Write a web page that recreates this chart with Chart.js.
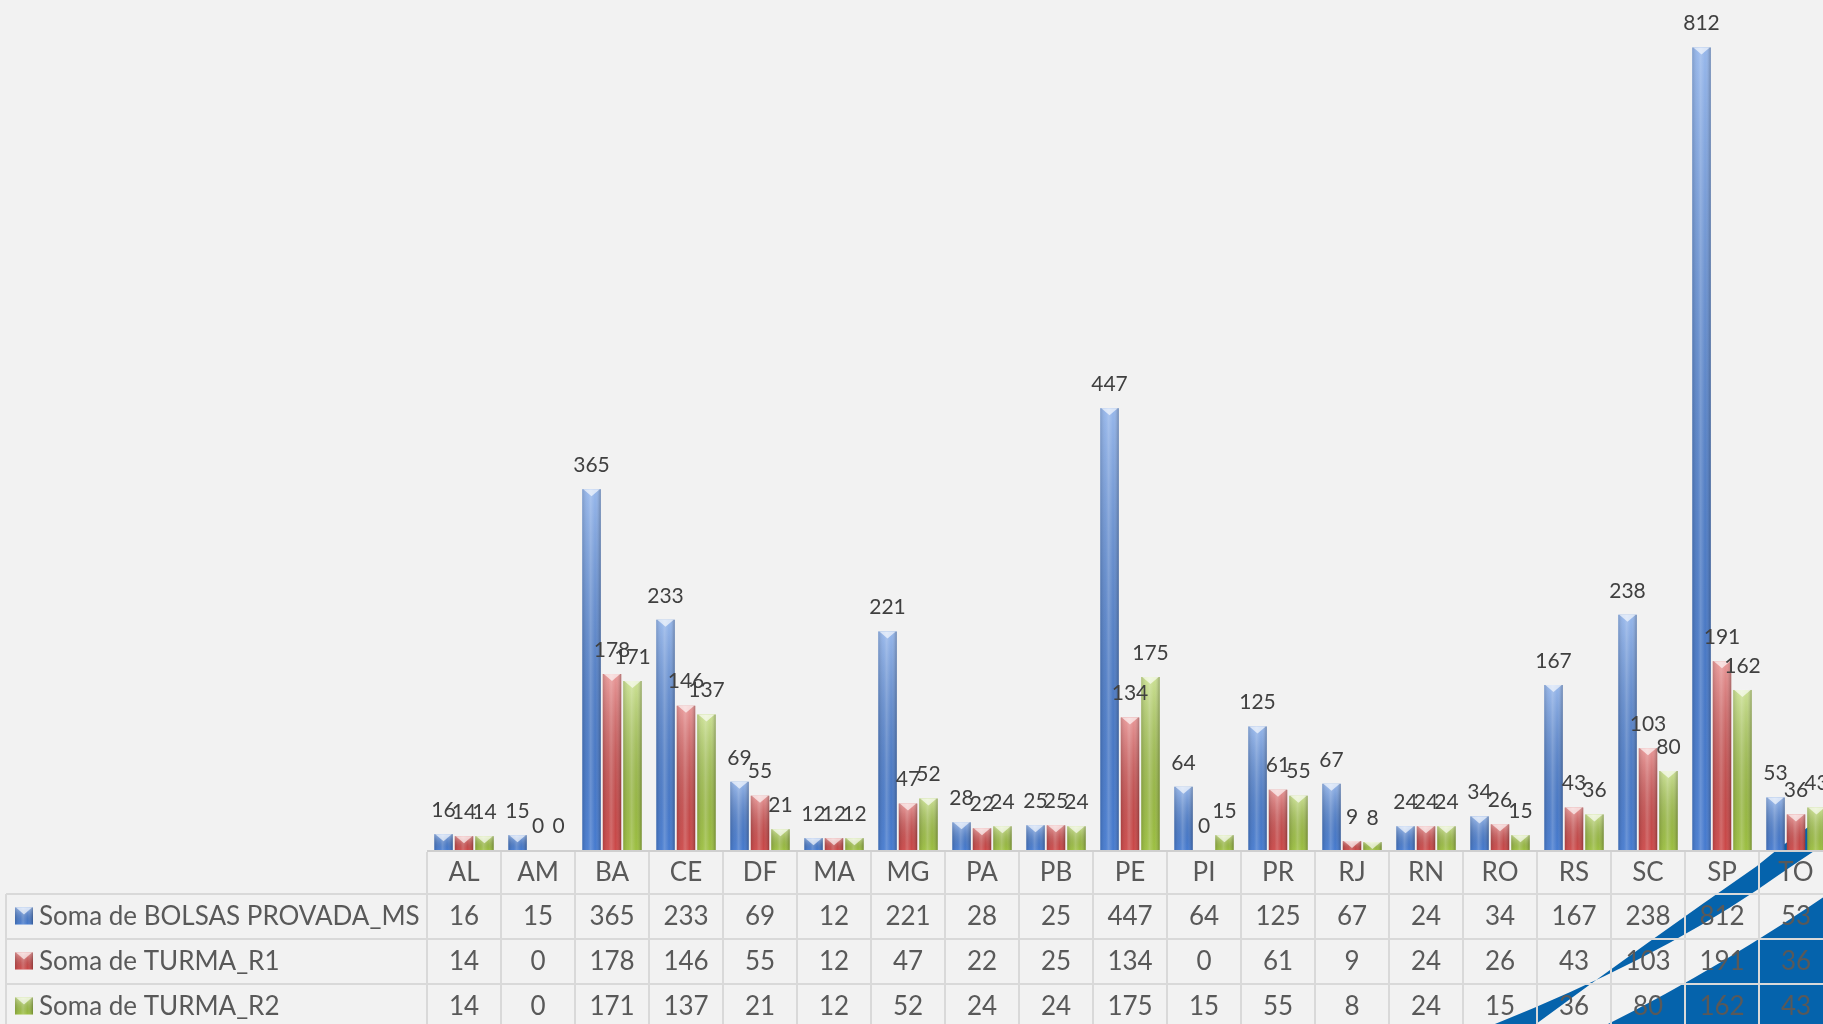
<!DOCTYPE html>
<html>
<head>
<meta charset="utf-8">
<script src="https://cdn.jsdelivr.net/npm/chart.js@4.4.1/dist/chart.umd.min.js"></script>
<style>
  body { margin: 0; background: #f2f2f2; overflow: hidden; }
  #wrap { position: absolute; left: 0; top: 0; width: 1840px; height: 1024px; }
</style>
</head>
<body>
<div id="wrap"><canvas id="chart" width="1840" height="1024"></canvas></div>
<script>
const estados = ["AL", "AM", "BA", "CE", "DF", "MA", "MG", "PA", "PB", "PE", "PI", "PR", "RJ", "RN", "RO", "RS", "SC", "SP", "TO"];
const bolsas = [16, 15, 365, 233, 69, 12, 221, 28, 25, 447, 64, 125, 67, 24, 34, 167, 238, 812, 53];
const turmaR1 = [14, 0, 178, 146, 55, 12, 47, 22, 25, 134, 0, 61, 9, 24, 26, 43, 103, 191, 36];
const turmaR2 = [14, 0, 171, 137, 21, 12, 52, 24, 24, 175, 15, 55, 8, 24, 15, 36, 80, 162, 43];
const nomes = ["Soma de BOLSAS PROVADA_MS", "Soma de TURMA_R1", "Soma de TURMA_R2"];
const cores = ["#4a82dc", "#d94d4d", "#a6cb45"];

const FONT = "Lato, 'Open Sans', sans-serif";
const TXT = "#595959";

// shading so the bars look like the beveled excel columns
function shadeBar(ctx, x0, top, w, h) {
  if (h < 1) return;
  let g = ctx.createLinearGradient(0, top, 0, top + h);
  g.addColorStop(0, "rgba(255,255,255,0.42)");
  g.addColorStop(1, "rgba(0,0,0,0.06)");
  ctx.fillStyle = g;
  ctx.fillRect(x0, top, w, h);

  g = ctx.createLinearGradient(x0, 0, x0 + w, 0);
  g.addColorStop(0, "rgba(0,0,0,0.14)");
  g.addColorStop(0.3, "rgba(255,255,255,0.05)");
  g.addColorStop(0.45, "rgba(255,255,255,0.2)");
  g.addColorStop(0.7, "rgba(255,255,255,0)");
  g.addColorStop(1, "rgba(0,0,0,0.25)");
  ctx.fillStyle = g;
  ctx.fillRect(x0, top, w, h);

  const th = Math.min(7, h);
  ctx.fillStyle = "rgba(255,255,255,0.65)";
  ctx.beginPath();
  ctx.moveTo(x0 + 1, top);
  ctx.lineTo(x0 + w - 1, top);
  ctx.lineTo(x0 + w / 2, top + th);
  ctx.closePath();
  ctx.fill();
}

const fundo = {
  id: "fundo",
  beforeDraw(chart) {
    const ctx = chart.ctx;
    ctx.save();
    ctx.fillStyle = "#f2f2f2";
    ctx.fillRect(0, 0, chart.width, chart.height);
    ctx.fillStyle = "#0563ac";
    // thin curved stripe
    ctx.beginPath();
    ctx.moveTo(1495, 1024);
    ctx.quadraticCurveTo(1650, 962, 1757, 890);
    ctx.quadraticCurveTo(1800, 860, 1840, 834);
    ctx.lineTo(1840, 806);
    ctx.quadraticCurveTo(1795, 834, 1757, 866);
    ctx.quadraticCurveTo(1650, 940, 1536, 1024);
    ctx.closePath();
    ctx.fill();
    // solid corner
    ctx.beginPath();
    ctx.moveTo(1608, 1024);
    ctx.quadraticCurveTo(1720, 968, 1840, 886);
    ctx.lineTo(1840, 1024);
    ctx.closePath();
    ctx.fill();
    ctx.restore();
  }
};

const rotulos = {
  id: "rotulos",
  afterDatasetsDraw(chart) {
    const ctx = chart.ctx;
    ctx.save();
    chart.data.datasets.forEach((ds, i) => {
      chart.getDatasetMeta(i).data.forEach(bar => {
        const w = bar.width;
        shadeBar(ctx, bar.x - w / 2, bar.y, w, bar.base - bar.y);
      });
    });
    ctx.font = "21px " + FONT;
    ctx.fillStyle = "#404040";
    ctx.textAlign = "center";
    ctx.textBaseline = "middle";
    chart.data.datasets.forEach((ds, i) => {
      chart.getDatasetMeta(i).data.forEach((bar, j) => {
        ctx.fillText(ds.data[j], bar.x, bar.y - 24);
      });
    });
    ctx.restore();
  }
};

const tabela = {
  id: "tabela",
  afterDraw(chart) {
    const ctx = chart.ctx;
    const xs = chart.scales.x;
    const area = chart.chartArea;
    const n = estados.length;
    const cw = (area.right - area.left) / n;
    const rows = [852, 894, 939, 984, 1029];
    const series = [bolsas, turmaR1, turmaR2];
    ctx.save();

    // axis line
    ctx.strokeStyle = "#cfcfcf";
    ctx.lineWidth = 2;
    ctx.beginPath();
    ctx.moveTo(area.left, 851);
    ctx.lineTo(area.right, 851);
    ctx.stroke();

    ctx.strokeStyle = "#d9d9d9";
    ctx.lineWidth = 2;
    ctx.beginPath();
    for (let r = 1; r < rows.length; r++) {
      ctx.moveTo(6, rows[r]);
      ctx.lineTo(area.right, rows[r]);
    }
    ctx.moveTo(6, rows[1]);
    ctx.lineTo(6, 1030);
    for (let k = 0; k <= n; k++) {
      const x = area.left + k * cw;
      ctx.moveTo(x, rows[0]);
      ctx.lineTo(x, 1030);
    }
    ctx.stroke();

    ctx.font = "26px " + FONT;
    ctx.fillStyle = TXT;
    ctx.textBaseline = "middle";
    ctx.textAlign = "center";
    estados.forEach((e, j) => {
      const x = xs.getPixelForValue(j);
      ctx.fillText(e, x, 873);
      series.forEach((s, k) => {
        ctx.fillText(s[j], x, (rows[k + 1] + rows[k + 2]) / 2);
      });
    });

    // legend keys in the table
    ctx.textAlign = "left";
    nomes.forEach((nome, k) => {
      const cy = (rows[k + 1] + rows[k + 2]) / 2;
      ctx.fillStyle = cores[k];
      ctx.fillRect(15, cy - 9, 18, 17);
      shadeBar(ctx, 15, cy - 9, 18, 17);
      ctx.fillStyle = TXT;
      ctx.fillText(nome, 39, cy);
    });
    ctx.restore();
  }
};

new Chart(document.getElementById("chart"), {
  type: "bar",
  data: {
    labels: estados,
    datasets: [
      { label: nomes[0], data: bolsas, backgroundColor: cores[0] },
      { label: nomes[1], data: turmaR1, backgroundColor: cores[1] },
      { label: nomes[2], data: turmaR2, backgroundColor: cores[2] }
    ]
  },
  options: {
    responsive: false,
    animation: false,
    layout: { padding: { left: 427, right: 7, top: 10, bottom: 174 } },
    datasets: { bar: { categoryPercentage: 0.83, barPercentage: 0.9 } },
    plugins: { legend: { display: false }, tooltip: { enabled: false } },
    scales: {
      x: { display: false },
      y: { display: false, min: 0, max: 850 }
    }
  },
  plugins: [fundo, rotulos, tabela]
});
</script>
</body>
</html>
